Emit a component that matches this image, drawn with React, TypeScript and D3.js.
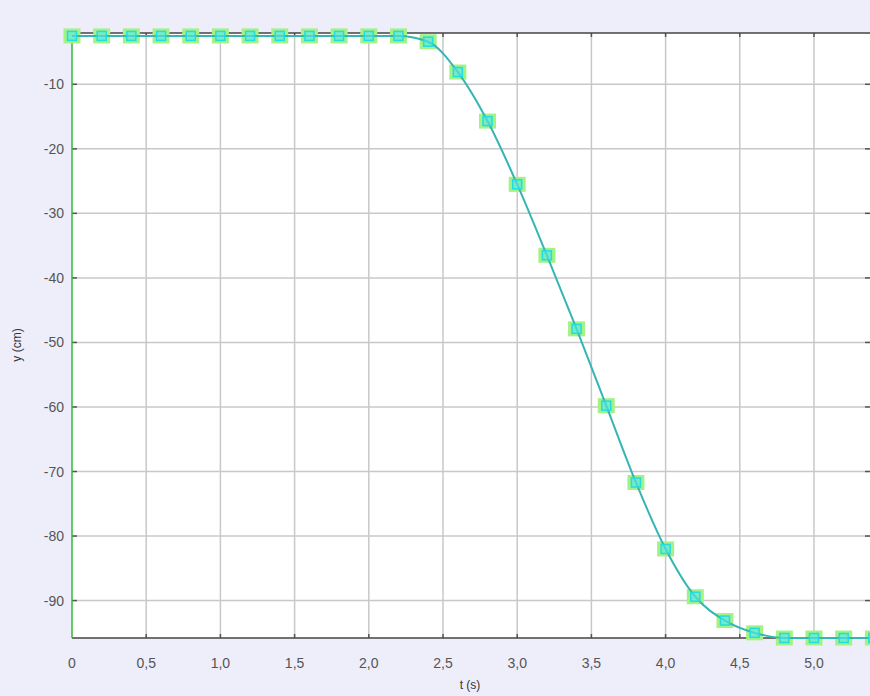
import React, { useEffect, useRef } from 'react';
import * as d3 from 'd3';

// measured positions, t in seconds, y in cm
const times = [0, 0.2, 0.4, 0.6, 0.8, 1.0, 1.2, 1.4, 1.6, 1.8, 2.0, 2.2, 2.4, 2.6, 2.8, 3.0, 3.2, 3.4, 3.6, 3.8, 4.0, 4.2, 4.4, 4.6, 4.8, 5.0, 5.2, 5.4];
const heights = [-2.5, -2.5, -2.5, -2.5, -2.5, -2.5, -2.5, -2.5, -2.5, -2.5, -2.5, -2.5, -3.4, -8.1, -15.7, -25.5, -36.5, -47.9, -59.8, -71.7, -82.0, -89.4, -93.1, -95.0, -95.8, -95.8, -95.8, -95.8];
const xTicks = [0, 0.5, 1.0, 1.5, 2.0, 2.5, 3.0, 3.5, 4.0, 4.5, 5.0];
const yTicks = [-10, -20, -30, -40, -50, -60, -70, -80, -90];

const W = 870;
const H = 696;

const App = () => {
  const ref = useRef<SVGSVGElement>(null);

  useEffect(() => {
    const svg = d3.select(ref.current);
    svg.selectAll('*').remove();

    const left = 72, top = 33, bottom = 638, right = 870;
    const x = d3.scaleLinear().domain([0, 5]).range([left, 814]);
    const y = d3.scaleLinear().domain([-95.8, -2.05]).range([bottom, top]);

    svg.append('rect').attr('width', W).attr('height', H).attr('fill', '#eeeefb');
    svg.append('rect')
      .attr('x', left).attr('y', top)
      .attr('width', right - left + 10).attr('height', bottom - top)
      .attr('fill', '#fff');

    // grid
    const grid = svg.append('g').attr('stroke', '#c8c8c8').attr('stroke-width', 1.5);
    grid.selectAll('.gx').data(xTicks.slice(1)).enter().append('line')
      .attr('x1', d => x(d)).attr('x2', d => x(d)).attr('y1', top).attr('y2', bottom);
    grid.selectAll('.gy').data(yTicks).enter().append('line')
      .attr('x1', left).attr('x2', right).attr('y1', d => y(d)).attr('y2', d => y(d));

    // tick marks (top, bottom, left, right)
    const ticks = svg.append('g').attr('stroke', '#555').attr('stroke-width', 1.5);
    ticks.selectAll('.tb').data(xTicks.slice(1)).enter().append('line')
      .attr('x1', d => x(d)).attr('x2', d => x(d)).attr('y1', bottom).attr('y2', bottom - 4);
    ticks.selectAll('.tt').data(xTicks.slice(1)).enter().append('line')
      .attr('x1', d => x(d)).attr('x2', d => x(d)).attr('y1', top).attr('y2', top + 4);
    ticks.selectAll('.tl').data(yTicks).enter().append('line')
      .attr('x1', left).attr('x2', left + 5).attr('y1', d => y(d)).attr('y2', d => y(d));
    ticks.selectAll('.tr').data(yTicks).enter().append('line')
      .attr('x1', right).attr('x2', right - 5).attr('y1', d => y(d)).attr('y2', d => y(d));

    // frame
    svg.append('line').attr('x1', left).attr('x2', right).attr('y1', top).attr('y2', top)
      .attr('stroke', '#444').attr('stroke-width', 1.5);
    svg.append('line').attr('x1', left).attr('x2', right).attr('y1', bottom).attr('y2', bottom)
      .attr('stroke', '#444').attr('stroke-width', 1.5);
    svg.append('line').attr('x1', left).attr('x2', left).attr('y1', top).attr('y2', bottom)
      .attr('stroke', '#33bb33').attr('stroke-width', 1.5);

    // tick labels
    const fmt = (d: number) => (d === 0 ? '0' : d.toFixed(1).replace('.', ','));
    svg.append('g').selectAll('text').data(xTicks).enter().append('text')
      .attr('x', d => x(d)).attr('y', 668)
      .attr('text-anchor', 'middle')
      .attr('font-family', 'Liberation Sans, Arial, sans-serif').attr('font-size', 14)
      .attr('fill', '#555')
      .text(fmt);
    svg.append('g').selectAll('text').data(yTicks).enter().append('text')
      .attr('x', 64).attr('y', d => y(d) + 5)
      .attr('text-anchor', 'end')
      .attr('font-family', 'Liberation Sans, Arial, sans-serif').attr('font-size', 14)
      .attr('fill', '#555')
      .text(d => d);

    // axis titles
    svg.append('text').attr('x', 470).attr('y', 689).attr('text-anchor', 'middle')
      .attr('font-family', 'Liberation Sans, Arial, sans-serif').attr('font-size', 12)
      .attr('fill', '#333').text('t (s)');
    svg.append('text').attr('transform', 'translate(21,345) rotate(-90)').attr('text-anchor', 'middle')
      .attr('font-family', 'Liberation Sans, Arial, sans-serif').attr('font-size', 12)
      .attr('fill', '#333').text('y (cm)');

    const pts = times.map((t, i) => ({ t, v: heights[i] }));
    const marks = svg.append('g');

    // marker halos
    marks.selectAll('.halo').data(pts).enter().append('rect')
      .attr('x', d => x(d.t) - 8.5).attr('y', d => y(d.v) - 7.5)
      .attr('width', 17).attr('height', 15)
      .attr('fill', '#a2f284');

    // fitted curve
    const line = d3.line<{ t: number; v: number }>()
      .x(d => x(d.t)).y(d => y(d.v))
      .curve(d3.curveMonotoneX);
    marks.append('path').datum(pts).attr('d', line)
      .attr('fill', 'none').attr('stroke', '#35b5b5').attr('stroke-width', 2);

    // inner markers
    marks.selectAll('.mk').data(pts).enter().append('rect')
      .attr('x', d => x(d.t) - 4.5).attr('y', d => y(d.v) - 4.5)
      .attr('width', 9).attr('height', 9)
      .attr('fill', '#55e8ee').attr('fill-opacity', 0.6)
      .attr('stroke', '#22dde0').attr('stroke-width', 1.5);
  }, []);

  return (
    <svg ref={ref} width={W} height={H} style={{ display: 'block', position: 'absolute', left: 0, top: 0 }} />
  );
};

export default App;
